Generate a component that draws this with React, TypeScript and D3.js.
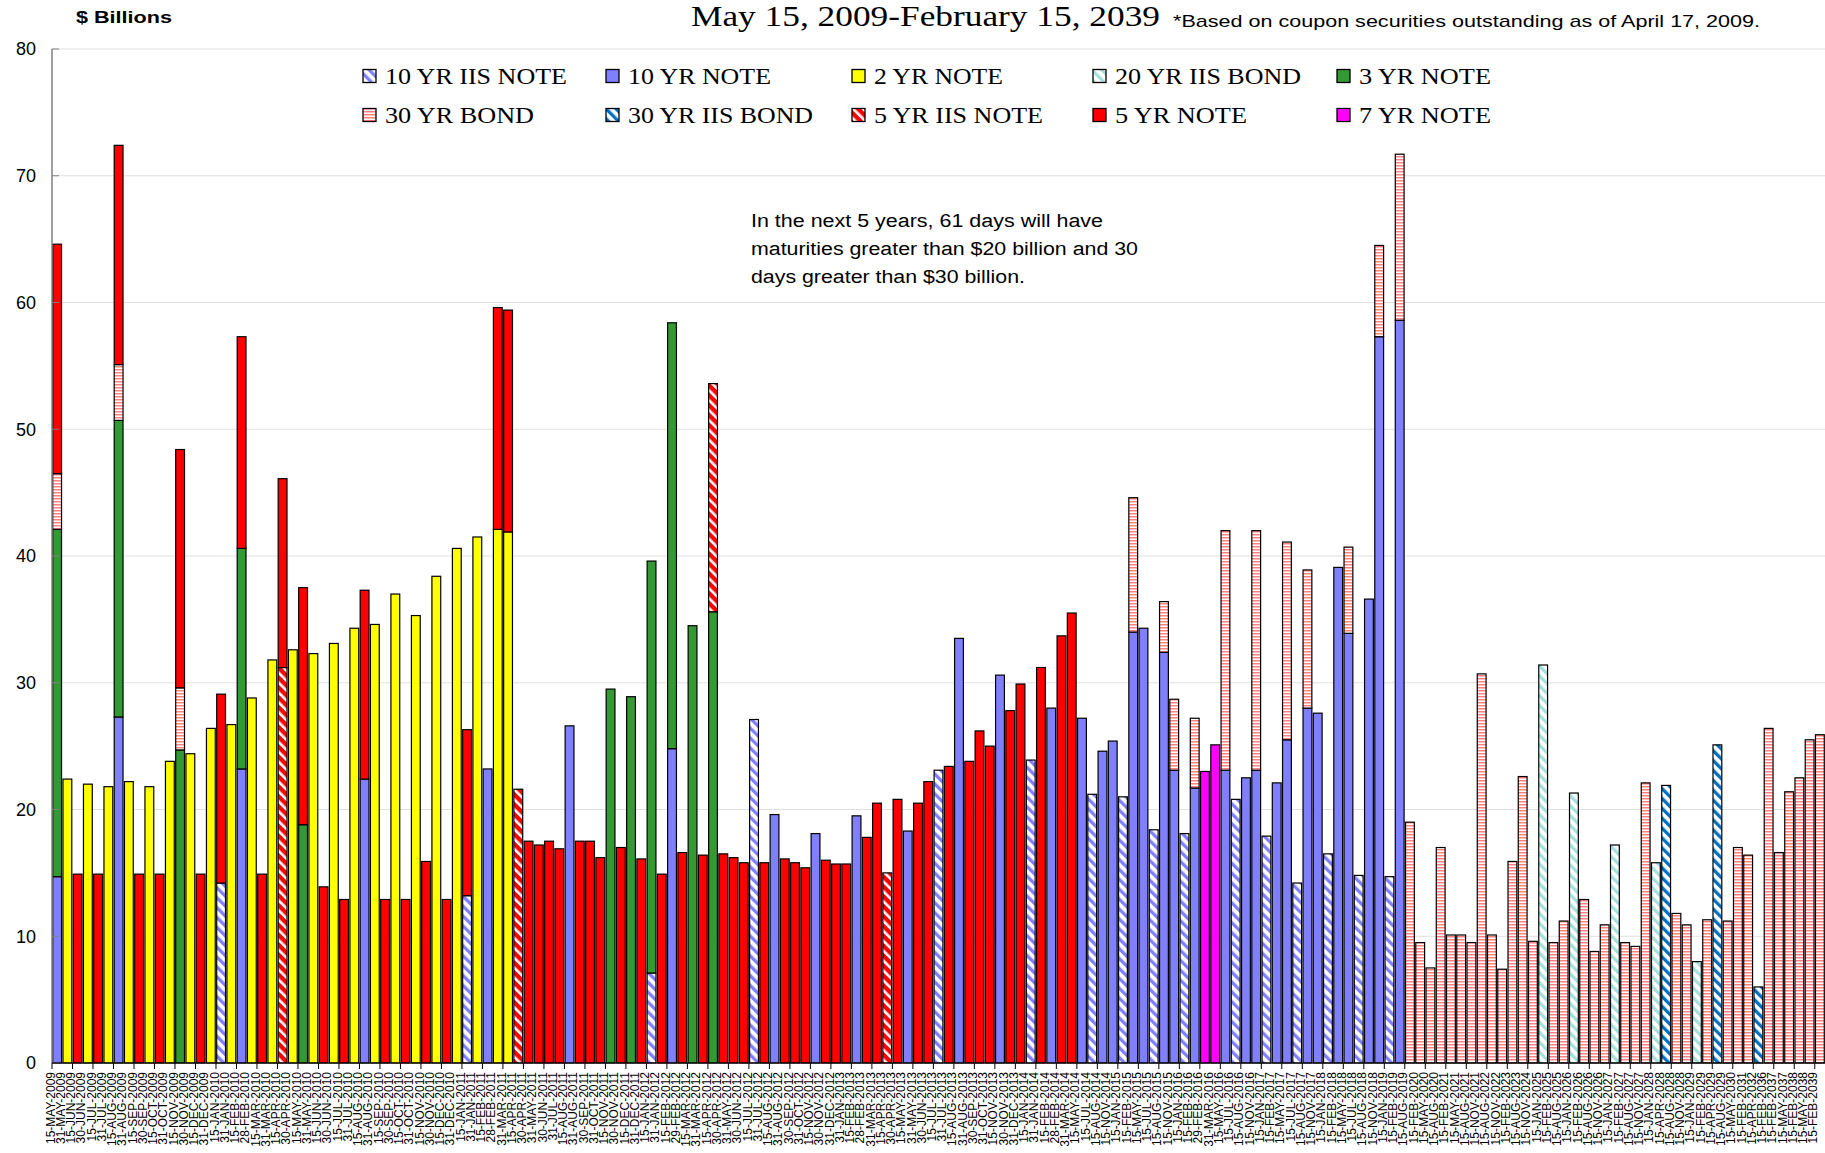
import React from 'react';
import * as d3 from 'd3';

const categories = [
'15-MAY-2009','31-MAY-2009','15-JUN-2009','30-JUN-2009','15-JUL-2009','31-JUL-2009','15-AUG-2009','31-AUG-2009','15-SEP-2009','30-SEP-2009',
'15-OCT-2009','31-OCT-2009','15-NOV-2009','30-NOV-2009','15-DEC-2009','31-DEC-2009','15-JAN-2010','31-JAN-2010','15-FEB-2010','28-FEB-2010',
'15-MAR-2010','31-MAR-2010','15-APR-2010','30-APR-2010','15-MAY-2010','31-MAY-2010','15-JUN-2010','30-JUN-2010','15-JUL-2010','31-JUL-2010',
'15-AUG-2010','31-AUG-2010','15-SEP-2010','30-SEP-2010','15-OCT-2010','31-OCT-2010','15-NOV-2010','30-NOV-2010','15-DEC-2010','31-DEC-2010',
'15-JAN-2011','31-JAN-2011','15-FEB-2011','28-FEB-2011','31-MAR-2011','15-APR-2011','30-APR-2011','31-MAY-2011','30-JUN-2011','31-JUL-2011',
'15-AUG-2011','31-AUG-2011','30-SEP-2011','31-OCT-2011','15-NOV-2011','30-NOV-2011','15-DEC-2011','31-DEC-2011','15-JAN-2012','31-JAN-2012',
'15-FEB-2012','29-FEB-2012','15-MAR-2012','31-MAR-2012','15-APR-2012','30-APR-2012','31-MAY-2012','30-JUN-2012','15-JUL-2012','31-JUL-2012',
'15-AUG-2012','31-AUG-2012','30-SEP-2012','31-OCT-2012','15-NOV-2012','30-NOV-2012','31-DEC-2012','31-JAN-2013','15-FEB-2013','28-FEB-2013',
'31-MAR-2013','15-APR-2013','30-APR-2013','15-MAY-2013','31-MAY-2013','30-JUN-2013','15-JUL-2013','31-JUL-2013','15-AUG-2013','31-AUG-2013',
'30-SEP-2013','31-OCT-2013','15-NOV-2013','30-NOV-2013','31-DEC-2013','15-JAN-2014','31-JAN-2014','15-FEB-2014','28-FEB-2014','31-MAR-2014',
'15-MAY-2014','15-JUL-2014','15-AUG-2014','15-NOV-2014','15-JAN-2015','15-FEB-2015','15-MAY-2015','15-JUL-2015','15-AUG-2015','15-NOV-2015',
'15-JAN-2016','15-FEB-2016','29-FEB-2016','31-MAR-2016','15-MAY-2016','15-JUL-2016','15-AUG-2016','15-NOV-2016','15-JAN-2017','15-FEB-2017',
'15-MAY-2017','15-JUL-2017','15-AUG-2017','15-NOV-2017','15-JAN-2018','15-FEB-2018','15-MAY-2018','15-JUL-2018','15-AUG-2018','15-NOV-2018',
'15-JAN-2019','15-FEB-2019','15-AUG-2019','15-FEB-2020','15-MAY-2020','15-AUG-2020','15-FEB-2021','15-MAY-2021','15-AUG-2021','15-NOV-2021',
'15-AUG-2022','15-NOV-2022','15-FEB-2023','15-AUG-2023','15-NOV-2024','15-JAN-2025','15-FEB-2025','15-AUG-2025','15-JAN-2026','15-FEB-2026',
'15-AUG-2026','15-NOV-2026','15-JAN-2027','15-FEB-2027','15-AUG-2027','15-NOV-2027','15-JAN-2028','15-APR-2028','15-AUG-2028','15-NOV-2028',
'15-JAN-2029','15-FEB-2029','15-APR-2029','15-AUG-2029','15-MAY-2030','15-FEB-2031','15-APR-2032','15-FEB-2036','15-FEB-2037','15-MAY-2037',
'15-FEB-2038','15-MAY-2038','15-FEB-2039'
];

// Series values ($ billions), aligned with categories (10 per row)
const note10IIS = [
0,0,0,0,0,0,0,0,0,0,
0,0,0,0,0,0,14.2,0,0,0,
0,0,0,0,0,0,0,0,0,0,
0,0,0,0,0,0,0,0,0,0,
13.2,0,0,0,0,0,0,0,0,0,
0,0,0,0,0,0,0,0,7.1,0,
0,0,0,0,0,0,0,0,27.1,0,
0,0,0,0,0,0,0,0,0,0,
0,0,0,0,0,0,23.1,0,0,0,
0,0,0,0,0,23.9,0,0,0,0,
0,21.2,0,0,21.0,0,0,18.4,0,0,
18.1,0,0,0,0,20.8,0,0,17.9,0,
0,14.2,0,0,16.5,0,0,14.8,0,0,
14.7,0,0,0,0,0,0,0,0,0,
0,0,0,0,0,0,0,0,0,0,
0,0,0,0,0,0,0,0,0,0,
0,0,0,0,0,0,0,0,0,0,
0,0,0
];

const note10 = [
14.7,0,0,0,0,0,27.3,0,0,0,
0,0,0,0,0,0,0,0,23.2,0,
0,0,0,0,0,0,0,0,0,0,
22.4,0,0,0,0,0,0,0,0,0,
0,0,23.2,0,0,0,0,0,0,0,
26.6,0,0,0,0,0,0,0,0,0,
24.8,0,0,0,0,0,0,0,0,0,
19.6,0,0,0,18.1,0,0,0,19.5,0,
0,0,0,18.3,0,0,0,0,33.5,0,
0,0,30.6,0,0,0,0,28.0,0,0,
27.2,0,24.6,25.4,0,34.0,34.3,0,32.4,23.1,
0,21.7,0,0,23.1,0,22.5,23.1,0,22.1,
25.5,0,28.0,27.6,0,39.1,33.9,0,36.6,57.3,
0,58.6,0,0,0,0,0,0,0,0,
0,0,0,0,0,0,0,0,0,0,
0,0,0,0,0,0,0,0,0,0,
0,0,0,0,0,0,0,0,0,0,
0,0,0
];

const note2 = [
0,22.4,0,22.0,0,21.8,0,22.2,0,21.8,
0,23.8,0,24.4,0,26.4,0,26.7,0,28.8,
0,31.8,0,32.6,0,32.3,0,33.1,0,34.3,
0,34.6,0,37.0,0,35.3,0,38.4,0,40.6,
0,41.5,0,42.1,41.9,0,0,0,0,0,
0,0,0,0,0,0,0,0,0,0,
0,0,0,0,0,0,0,0,0,0,
0,0,0,0,0,0,0,0,0,0,
0,0,0,0,0,0,0,0,0,0,
0,0,0,0,0,0,0,0,0,0,
0,0,0,0,0,0,0,0,0,0,
0,0,0,0,0,0,0,0,0,0,
0,0,0,0,0,0,0,0,0,0,
0,0,0,0,0,0,0,0,0,0,
0,0,0,0,0,0,0,0,0,0,
0,0,0,0,0,0,0,0,0,0,
0,0,0,0,0,0,0,0,0,0,
0,0,0
];

const bond20IIS = [
0,0,0,0,0,0,0,0,0,0,
0,0,0,0,0,0,0,0,0,0,
0,0,0,0,0,0,0,0,0,0,
0,0,0,0,0,0,0,0,0,0,
0,0,0,0,0,0,0,0,0,0,
0,0,0,0,0,0,0,0,0,0,
0,0,0,0,0,0,0,0,0,0,
0,0,0,0,0,0,0,0,0,0,
0,0,0,0,0,0,0,0,0,0,
0,0,0,0,0,0,0,0,0,0,
0,0,0,0,0,0,0,0,0,0,
0,0,0,0,0,0,0,0,0,0,
0,0,0,0,0,0,0,0,0,0,
0,0,0,0,0,0,0,0,0,0,
0,0,0,0,0,31.4,0,0,21.3,0,
0,0,17.2,0,0,0,15.8,0,0,0,
8.0,0,0,0,0,0,0,0,0,0,
0,0,0
];

const note3 = [
27.4,0,0,0,0,0,23.4,0,0,0,
0,0,24.7,0,0,0,0,0,17.4,0,
0,0,0,0,18.8,0,0,0,0,0,
0,0,0,0,0,0,0,0,0,0,
0,0,0,0,0,0,0,0,0,0,
0,0,0,0,29.5,0,28.9,0,32.5,0,
33.6,0,34.5,0,35.6,0,0,0,0,0,
0,0,0,0,0,0,0,0,0,0,
0,0,0,0,0,0,0,0,0,0,
0,0,0,0,0,0,0,0,0,0,
0,0,0,0,0,0,0,0,0,0,
0,0,0,0,0,0,0,0,0,0,
0,0,0,0,0,0,0,0,0,0,
0,0,0,0,0,0,0,0,0,0,
0,0,0,0,0,0,0,0,0,0,
0,0,0,0,0,0,0,0,0,0,
0,0,0,0,0,0,0,0,0,0,
0,0,0
];

const bond30 = [
4.4,0,0,0,0,0,4.4,0,0,0,
0,0,4.9,0,0,0,0,0,0,0,
0,0,0,0,0,0,0,0,0,0,
0,0,0,0,0,0,0,0,0,0,
0,0,0,0,0,0,0,0,0,0,
0,0,0,0,0,0,0,0,0,0,
0,0,0,0,0,0,0,0,0,0,
0,0,0,0,0,0,0,0,0,0,
0,0,0,0,0,0,0,0,0,0,
0,0,0,0,0,0,0,0,0,0,
0,0,0,0,0,10.6,0,0,4.0,5.6,
0,5.5,0,0,18.9,0,0,18.9,0,0,
15.6,0,10.9,0,0,0,6.8,0,0,7.2,
0,13.1,19.0,9.5,7.5,17.0,10.1,10.1,9.5,30.7,
10.1,7.4,15.9,22.6,9.6,0,9.5,11.2,0,12.9,
8.8,10.9,0,9.5,9.2,22.1,0,0,11.8,10.9,
0,11.3,0,11.2,17.0,16.4,0,26.4,16.6,21.4,
22.5,25.5,25.9
];

const bond30IIS = [
0,0,0,0,0,0,0,0,0,0,
0,0,0,0,0,0,0,0,0,0,
0,0,0,0,0,0,0,0,0,0,
0,0,0,0,0,0,0,0,0,0,
0,0,0,0,0,0,0,0,0,0,
0,0,0,0,0,0,0,0,0,0,
0,0,0,0,0,0,0,0,0,0,
0,0,0,0,0,0,0,0,0,0,
0,0,0,0,0,0,0,0,0,0,
0,0,0,0,0,0,0,0,0,0,
0,0,0,0,0,0,0,0,0,0,
0,0,0,0,0,0,0,0,0,0,
0,0,0,0,0,0,0,0,0,0,
0,0,0,0,0,0,0,0,0,0,
0,0,0,0,0,0,0,0,0,0,
0,0,0,0,0,0,0,21.9,0,0,
0,0,25.1,0,0,0,6.0,0,0,0,
0,0,0
];

const note5IIS = [
0,0,0,0,0,0,0,0,0,0,
0,0,0,0,0,0,0,0,0,0,
0,0,31.2,0,0,0,0,0,0,0,
0,0,0,0,0,0,0,0,0,0,
0,0,0,0,0,21.6,0,0,0,0,
0,0,0,0,0,0,0,0,0,0,
0,0,0,0,18.0,0,0,0,0,0,
0,0,0,0,0,0,0,0,0,0,
0,15.0,0,0,0,0,0,0,0,0,
0,0,0,0,0,0,0,0,0,0,
0,0,0,0,0,0,0,0,0,0,
0,0,0,0,0,0,0,0,0,0,
0,0,0,0,0,0,0,0,0,0,
0,0,0,0,0,0,0,0,0,0,
0,0,0,0,0,0,0,0,0,0,
0,0,0,0,0,0,0,0,0,0,
0,0,0,0,0,0,0,0,0,0,
0,0,0
];

const note5 = [
18.1,0,14.9,0,14.9,0,17.3,0,14.9,0,
14.9,0,18.8,0,14.9,0,14.9,0,16.7,0,
14.9,0,14.9,0,18.7,0,13.9,0,12.9,0,
14.9,0,12.9,0,12.9,0,15.9,0,12.9,0,
13.1,0,0,17.5,17.5,0,17.5,17.2,17.5,16.9,
0,17.5,17.5,16.2,0,17.0,0,16.1,0,14.9,
0,16.6,0,16.4,0,16.5,16.2,15.8,0,15.8,
0,16.1,15.8,15.4,0,16.0,15.7,15.7,0,17.8,
20.5,0,20.8,0,20.5,22.2,0,23.4,0,23.8,
26.2,25.0,0,27.8,29.9,0,31.2,0,33.7,35.5,
0,0,0,0,0,0,0,0,0,0,
0,0,0,0,0,0,0,0,0,0,
0,0,0,0,0,0,0,0,0,0,
0,0,0,0,0,0,0,0,0,0,
0,0,0,0,0,0,0,0,0,0,
0,0,0,0,0,0,0,0,0,0,
0,0,0,0,0,0,0,0,0,0,
0,0,0
];

const note7 = [
0,0,0,0,0,0,0,0,0,0,
0,0,0,0,0,0,0,0,0,0,
0,0,0,0,0,0,0,0,0,0,
0,0,0,0,0,0,0,0,0,0,
0,0,0,0,0,0,0,0,0,0,
0,0,0,0,0,0,0,0,0,0,
0,0,0,0,0,0,0,0,0,0,
0,0,0,0,0,0,0,0,0,0,
0,0,0,0,0,0,0,0,0,0,
0,0,0,0,0,0,0,0,0,0,
0,0,0,0,0,0,0,0,0,0,
0,0,23.0,25.1,0,0,0,0,0,0,
0,0,0,0,0,0,0,0,0,0,
0,0,0,0,0,0,0,0,0,0,
0,0,0,0,0,0,0,0,0,0,
0,0,0,0,0,0,0,0,0,0,
0,0,0,0,0,0,0,0,0,0,
0,0,0
];

const seriesNames = ['10 YR IIS NOTE', '10 YR NOTE', '2 YR NOTE', '20 YR IIS BOND', '3 YR NOTE',
  '30 YR BOND', '30 YR IIS BOND', '5 YR IIS NOTE', '5 YR NOTE', '7 YR NOTE'];
const seriesValues = [note10IIS, note10, note2, bond20IIS, note3, bond30, bond30IIS, note5IIS, note5, note7];
const yTicks = [0, 10, 20, 30, 40, 50, 60, 70, 80];

const fills: Record<string, string> = {
  '10 YR IIS NOTE': 'url(#p10I)',
  '10 YR NOTE': '#8080FF',
  '2 YR NOTE': '#FFFF00',
  '20 YR IIS BOND': 'url(#p20I)',
  '3 YR NOTE': '#339933',
  '30 YR BOND': 'url(#p30B)',
  '30 YR IIS BOND': 'url(#p30I)',
  '5 YR IIS NOTE': 'url(#p5I)',
  '5 YR NOTE': '#FF0000',
  '7 YR NOTE': '#FF00FF',
};

const annotation = [
  'In the next 5 years, 61 days will have',
  'maturities greater than $20 billion and 30',
  'days greater than $30 billion.',
];

export default function App() {
  const W = 1825, H = 1153;
  const x0 = 52, x1 = 1825, yTop = 49, yBot = 1063;
  const x = d3.scaleBand<string>().domain(categories).range([x0, x1]).paddingInner(0.14).paddingOuter(0.07);
  const y = d3.scaleLinear().domain([0, 80]).range([yBot, yTop]);
  const step = x.step();
  const bw = x.bandwidth();

  const table = categories.map((c, i) => {
    const o: any = { cat: c };
    seriesNames.forEach((s, k) => { o[s] = seriesValues[k][i] || 0; });
    return o;
  });
  const stacked = d3.stack<any>().keys(seriesNames)(table);

  const sans = 'Arial, "Liberation Sans", sans-serif';
  const serif = '"Times New Roman", "Liberation Serif", serif';

  const legendCols = [363, 606, 852, 1093, 1337];
  const legendRows = [69.5, 108.5];
  const legendWidths = [182, 143, 129, 186, 132, 149, 185, 169, 132, 132];

  const xTicks: number[] = [];
  for (let k = 0; k * 2 <= categories.length; k++) xTicks.push(x0 + k * 2 * step);

  return (
    <svg width={W} height={H} style={{ position: 'absolute', left: 0, top: 0, background: '#fff' }}>
      <defs>
        <pattern id="p10I" width="7" height="7" patternUnits="userSpaceOnUse" patternTransform="rotate(-45)">
          <rect width="7" height="7" fill="#fff" />
          <rect width="3.3" height="7" fill="#8080FF" />
        </pattern>
        <pattern id="p20I" width="7" height="7" patternUnits="userSpaceOnUse" patternTransform="rotate(-45)">
          <rect width="7" height="7" fill="#fff" />
          <rect width="3.3" height="7" fill="#A6E0DC" />
        </pattern>
        <pattern id="p30I" width="7" height="7" patternUnits="userSpaceOnUse" patternTransform="rotate(-45)">
          <rect width="7" height="7" fill="#fff" />
          <rect width="3.3" height="7" fill="#0070C0" />
        </pattern>
        <pattern id="p5I" width="7" height="7" patternUnits="userSpaceOnUse" patternTransform="rotate(-45)">
          <rect width="7" height="7" fill="#FF0000" />
          <rect width="2.6" height="7" fill="#fff" />
        </pattern>
        <pattern id="p30B" width="6" height="3" patternUnits="userSpaceOnUse">
          <rect width="6" height="3" fill="#fff" />
          <rect width="6" height="1.5" fill="#FF8080" />
        </pattern>
      </defs>
      <rect width={W} height={H} fill="#fff" />

      {/* gridlines */}
      {yTicks.filter(t => t > 0).map(t => (
        <line key={'g' + t} x1={x0} x2={x1} y1={y(t)} y2={y(t)} stroke="#E0E0E0" strokeWidth={1} />
      ))}

      {/* bars */}
      {stacked.map((layer) => (
        <g key={layer.key}>
          {layer.map((d, i) => {
            const h = y(d[0]) - y(d[1]);
            if (!(h > 0)) return null;
            return (
              <rect key={i} x={x(categories[i])} y={y(d[1])} width={bw} height={h}
                fill={fills[layer.key]} stroke="#000" strokeWidth={1.2} />
            );
          })}
        </g>
      ))}

      {/* y axis */}
      <line x1={x0} x2={x0} y1={yTop} y2={yBot} stroke="#808080" strokeWidth={1.5} />
      {yTicks.map(t => (
        <g key={'yt' + t}>
          <line x1={x0} x2={x0 + 7} y1={y(t)} y2={y(t)} stroke="#808080" strokeWidth={1} />
          <text x={36} y={y(t)} dy="0.36em" textAnchor="end" fontFamily={sans} fontSize={18} fill="#000">{t}</text>
        </g>
      ))}

      {/* x axis */}
      <line x1={x0} x2={x1} y1={yBot} y2={yBot} stroke="#000" strokeWidth={1.2} />
      {xTicks.map((tx, k) => (
        <line key={'xt' + k} x1={tx} x2={tx} y1={yBot} y2={yBot + 6} stroke="#000" strokeWidth={1} />
      ))}
      {categories.map((c) => {
        const cx = (x(c) as number) + bw / 2 - 2.5;
        return (
          <text key={'xl' + c} transform={`translate(${cx},1072) rotate(-90)`} textAnchor="end"
            fontFamily={sans} fontSize={12} fill="#000">{c}</text>
        );
      })}

      {/* titles */}
      <text x={76} y={23} fontFamily={sans} fontWeight="bold" fontSize={17} textLength={96} lengthAdjust="spacingAndGlyphs">$ Billions</text>
      <text x={691} y={26} fontFamily={serif} fontSize={30} textLength={469} lengthAdjust="spacingAndGlyphs">May 15, 2009-February 15, 2039</text>
      <text x={1173} y={27} fontFamily={sans} fontSize={17} textLength={587} lengthAdjust="spacingAndGlyphs">*Based on coupon securities outstanding as of April 17, 2009.</text>

      {/* legend */}
      {seriesNames.map((s, k) => {
        const col = k % 5, row = Math.floor(k / 5);
        const sx = legendCols[col], sy = legendRows[row];
        return (
          <g key={'lg' + s}>
            <rect x={sx} y={sy} width={13} height={13} fill={fills[s]} stroke="#000" strokeWidth={1.3} />
            <text x={sx + 22} y={sy + 14} fontFamily={serif} fontSize={24} textLength={legendWidths[k]} lengthAdjust="spacingAndGlyphs">{s}</text>
          </g>
        );
      })}

      {/* annotation */}
      {annotation.map((line, k) => (
        <text key={'an' + k} x={751} y={227 + k * 28} fontFamily={sans} fontSize={18}
          textLength={[352, 387, 274][k]} lengthAdjust="spacingAndGlyphs">{line}</text>
      ))}
    </svg>
  );
}
